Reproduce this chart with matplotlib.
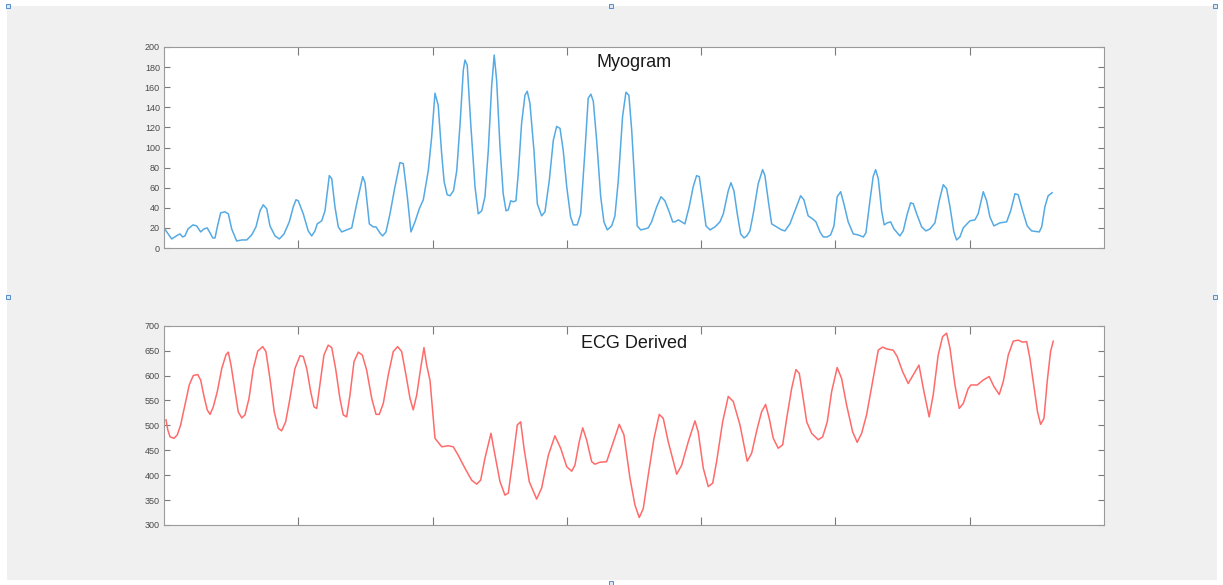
import matplotlib
matplotlib.use("Agg")
import matplotlib.pyplot as plt
from matplotlib.patches import Rectangle

plt.rcParams['font.family'] = ['Liberation Sans', 'DejaVu Sans']

# ---------------- data ----------------
myo_x = [0, 5.7, 10.4, 11.9, 13.9, 15.6, 17.9, 21.6, 24.3, 27.3, 29.8, 32.2, 34.3, 36.3, 38.0,
         39.7, 42.2, 45.4, 47.9, 50.4, 54.1, 57.9, 61.6, 65.3, 68.5, 71.5, 73.9, 76.5, 78.9,
         82.7, 85.9, 89.4, 93.3, 96.3, 98.3, 100.0, 103.7, 107.4, 110.0, 112.4, 114.1, 117.4,
         119.9, 123.1, 124.9, 127.3, 129.8, 132.3, 136.0, 139.8, 143.5, 148.0, 149.7, 152.9,
         155.8, 157.9, 160.8, 162.8, 165.3, 168.3, 172.0, 175.7, 178.2, 181.2, 183.9, 186.9,
         190.1, 193.1, 196.8, 199.3, 201.8, 204.2, 206.7, 208.6, 210.9, 213.0, 215.6, 218.0,
         220.5, 222.9, 224.1, 225.8, 228.4, 231.6, 234.0, 236.6, 239.0, 241.5, 244.0, 245.9,
         247.7, 250.2, 252.6, 254.7, 256.4, 258.2, 260.1, 262.1, 263.8, 266.3, 268.8, 270.5,
         272.5, 275.5, 278.0, 281.2, 283.7, 286.9, 289.9, 292.4, 294.9, 297.3, 299.9, 302.8,
         304.8, 307.7, 310.3, 313.5, 315.9, 317.9, 319.7, 322.2, 325.2, 327.6, 330.1, 333.4,
         335.8, 338.3, 341.5, 344.0, 346.2, 348.3, 350.7, 352.4, 355.0, 358.2, 360.6, 363.1,
         366.9, 370.1, 373.0, 376.2, 378.8, 380.5, 383.0, 385.5, 387.9, 391.1, 394.1, 396.6,
         398.6, 401.1, 403.6, 406.6, 410.3, 414.0, 416.5, 420.2, 422.2, 424.4, 426.9, 429.4,
         431.9, 433.9, 436.3, 438.8, 442.5, 445.8, 447.5, 450.0, 452.5, 456.2, 459.9, 462.4,
         466.1, 469.8, 474.1, 476.5, 479.7, 483.0, 485.5, 488.5, 490.9, 493.9, 496.4, 498.9,
         501.3, 503.9, 506.3, 509.5, 513.3, 517.0, 520.7, 522.7, 525.7, 528.1, 529.9, 531.9,
         534.4, 536.3, 538.6, 541.1, 543.6, 548.0, 550.5, 553.5, 556.0, 558.0, 560.5, 564.2,
         567.4, 570.4, 574.1, 577.3, 580.3, 582.8, 585.3, 588.2, 590.2, 592.7, 595.2, 600.1,
         603.9, 606.3, 610.1, 612.6, 615.0, 618.0, 622.5, 627.5, 630.5, 633.7, 636.1, 639.4,
         642.8, 646.1, 651.8, 653.6, 656.0, 658.4, 661.4]
myo_y = [20, 9, 13, 14, 11, 12, 19, 23, 22, 16, 19, 20, 15, 10, 10,
         21, 35, 36, 34, 19, 7, 8, 8, 13, 21, 37, 43, 39, 22,
         12, 9, 14, 26, 41, 48, 47, 34, 17, 12, 17, 24, 27,
         37, 72, 69, 41, 21, 16, 18, 20, 44, 71, 65, 24,
         21, 21, 15, 12, 16, 34, 61, 85, 84, 51, 16, 26,
         39, 48, 77, 110, 154, 142, 95, 66, 53, 52, 57, 77,
         124, 177, 187, 182, 124, 61, 34, 37, 51, 97, 161, 192,
         167, 101, 54, 37, 38, 47, 46, 47, 74, 124, 152, 156,
         144, 97, 44, 32, 36, 67, 107, 121, 119, 97, 61, 31,
         23, 23, 34, 97, 149, 153, 146, 107, 51, 26, 18, 22,
         32, 67, 131, 155, 152, 117, 61, 22, 18, 19, 20, 26,
         41, 51, 47, 36, 26, 26, 28, 26, 24, 41, 61, 72,
         71, 47, 22, 18, 21, 26, 34, 57, 65, 57, 34, 14,
         10, 12, 17, 34, 64, 78, 72, 47, 24, 21, 18, 17,
         24, 37, 52, 48, 32, 29, 26, 16, 11, 11, 13, 22,
         51, 56, 44, 26, 14, 13, 11, 15, 47, 71, 78, 69,
         37, 23, 25, 26, 19, 12, 17, 34, 45, 44, 34, 21,
         17, 19, 25, 47, 63, 59, 41, 16, 8, 11, 20, 27,
         28, 34, 56, 47, 31, 22, 25, 26, 37, 54, 53, 37,
         22, 17, 16, 21, 41, 52, 55]

ecg_x = [1.5, 2.8, 4.5, 7.4, 9.9, 12.4, 15.6, 18.8, 21.8, 25.1, 27.3, 29.8, 32.2, 34.3, 36.7,
         39.7, 43.0, 46.2, 47.9, 49.9, 52.9, 55.3, 57.9, 60.3, 63.3, 66.5, 69.8, 73.5, 75.9,
         78.9, 82.1, 85.1, 87.6, 90.6, 93.8, 97.5, 101.3, 103.7, 106.3, 109.2, 111.7, 113.7,
         116.2, 119.1, 122.3, 124.9, 127.8, 131.0, 133.5, 136.0, 138.5, 141.5, 144.7, 147.7,
         150.9, 154.7, 157.9, 160.3, 163.3, 167.0, 170.7, 174.0, 177.0, 180.2, 183.2, 185.6,
         188.2, 191.1, 193.6, 195.6, 198.1, 201.8, 206.8, 211.7, 215.4, 219.1, 224.1, 229.1,
         232.8, 235.8, 239.0, 243.5, 246.5, 250.2, 253.9, 256.4, 259.6, 263.1, 265.6, 268.1,
         272.0, 277.5, 281.2, 286.2, 291.1, 295.4, 299.9, 303.6, 306.0, 309.2, 311.8, 314.7,
         318.5, 320.9, 324.6, 329.6, 333.4, 339.0, 342.5, 347.0, 350.7, 353.9, 356.9, 360.6,
         364.9, 368.8, 371.8, 375.5, 381.8, 385.5, 390.4, 395.4, 397.8, 401.6, 405.3, 408.6,
         411.5, 416.0, 420.2, 423.9, 428.9, 434.3, 437.6, 441.8, 445.0, 448.0, 450.7, 453.7,
         457.4, 460.7, 463.7, 467.4, 470.6, 473.1, 476.0, 478.6, 482.3, 487.2, 490.5, 493.9,
         497.2, 501.3, 504.6, 508.3, 512.8, 516.2, 519.5, 523.2, 527.7, 531.9, 535.1, 538.6,
         543.0, 546.0, 550.0, 554.2, 557.9, 562.2, 565.9, 569.8, 572.8, 576.5, 579.8, 582.8,
         585.3, 589.0, 592.2, 595.2, 598.9, 600.9, 605.6, 610.1, 614.5, 618.0, 622.0, 625.0,
         628.7, 632.4, 636.1, 639.4, 642.4, 644.8, 647.3, 650.5, 652.8, 655.3, 657.7, 660.2,
         662.2]
ecg_y = [511, 491, 477, 474, 481, 501, 541, 581, 600, 602, 591, 558, 531, 522, 537,
         568, 614, 642, 647, 621, 568, 527, 515, 521, 554, 614, 649, 658, 648,
         594, 527, 494, 489, 507, 554, 614, 640, 638, 614, 568, 537, 534,
         584, 641, 661, 656, 614, 554, 521, 517, 561, 628, 647, 641,
         611, 554, 522, 522, 544, 601, 648, 658, 648, 601, 554, 531,
         561, 614, 656, 621, 590, 474, 457, 459, 457, 440, 414, 390,
         382, 390, 434, 484, 440, 387, 360, 364, 427, 501, 507, 454,
         387, 352, 374, 440, 479, 454, 417, 408, 420, 467, 495, 471,
         427, 422, 426, 427, 457, 502, 481, 394, 340, 315, 333, 400,
         474, 522, 514, 467, 402, 420, 467, 509, 487, 414, 377, 384,
         427, 507, 558, 548, 501, 428, 444, 494, 527, 542, 514, 474,
         454, 461, 514, 574, 612, 604, 554, 507, 484, 471, 477, 507,
         568, 616, 594, 541, 487, 466, 484, 521, 588, 651, 657, 653,
         651, 638, 608, 584, 601, 621, 568, 517, 561, 641, 678, 685,
         655, 581, 534, 544, 574, 581, 581, 591, 598, 578, 562, 588,
         641, 669, 671, 667, 668, 635, 588, 527, 502, 514, 588, 648,
         669]

x_ticks = [100, 200, 300, 400, 500, 600]
myo_yticks = list(range(0, 201, 20))
ecg_yticks = list(range(300, 701, 50))
titles = ["Myogram", "ECG Derived"]

# ---------------- figure ----------------
W, H = 1223, 585
fig = plt.figure(figsize=(W / 100, H / 100), dpi=100)
fig.patch.set_facecolor('white')
fig.patches.append(Rectangle((7 / W, 1 - 580 / H), (1217 - 7) / W, (580 - 6) / H,
                             transform=fig.transFigure, facecolor='#f0f0f0',
                             edgecolor='none', zorder=-10))
# selection handles
for hx, hy in [(8, 6), (611, 6), (1215, 6), (8, 297), (1215, 297), (611, 583)]:
    fig.patches.append(Rectangle(((hx - 2) / W, 1 - (hy + 2) / H), 4 / W, 4 / H,
                                 transform=fig.transFigure, facecolor='#dbe9f7',
                                 edgecolor='#3d7fc4', linewidth=0.6, zorder=-5))

left = 164 / W
width = (1104 - 164) / W
ax1 = fig.add_axes([left, 1 - 248 / H, width, (248 - 47) / H])
ax2 = fig.add_axes([left, 1 - 525 / H, width, (525 - 325.7) / H])

ax1.plot(myo_x, myo_y, color='#55aae4', lw=1.1, solid_joinstyle='round')
ax2.plot(ecg_x, ecg_y, color='#ff6a6a', lw=1.1, solid_joinstyle='round')

for ax, yt, title, ty in [(ax1, myo_yticks, titles[0], 0.925), (ax2, ecg_yticks, titles[1], 0.91)]:
    ax.set_zorder(5)
    ax.set_facecolor('white')
    ax.set_xlim(0, 700)
    ax.set_ylim(yt[0], yt[-1])
    ax.set_xticks(x_ticks)
    ax.set_xticklabels([])
    ax.set_yticks(yt)
    ax.set_yticklabels([str(v) for v in yt])
    ax.tick_params(axis='both', direction='in', top=True, right=True, color='#7a7a7a',
                   width=0.8, labelsize=6.5, labelcolor='#4a4a4a', pad=3)
    ax.tick_params(axis='x', length=6)
    ax.tick_params(axis='y', length=4)
    for s in ax.spines.values():
        s.set_color('#9a9a9a')
        s.set_linewidth(0.8)
    ax.text(0.5, ty, title, transform=ax.transAxes, ha='center', va='center',
            fontsize=13, color='#1a1a1a')

fig.savefig('out.png', dpi=100, facecolor=fig.get_facecolor())
